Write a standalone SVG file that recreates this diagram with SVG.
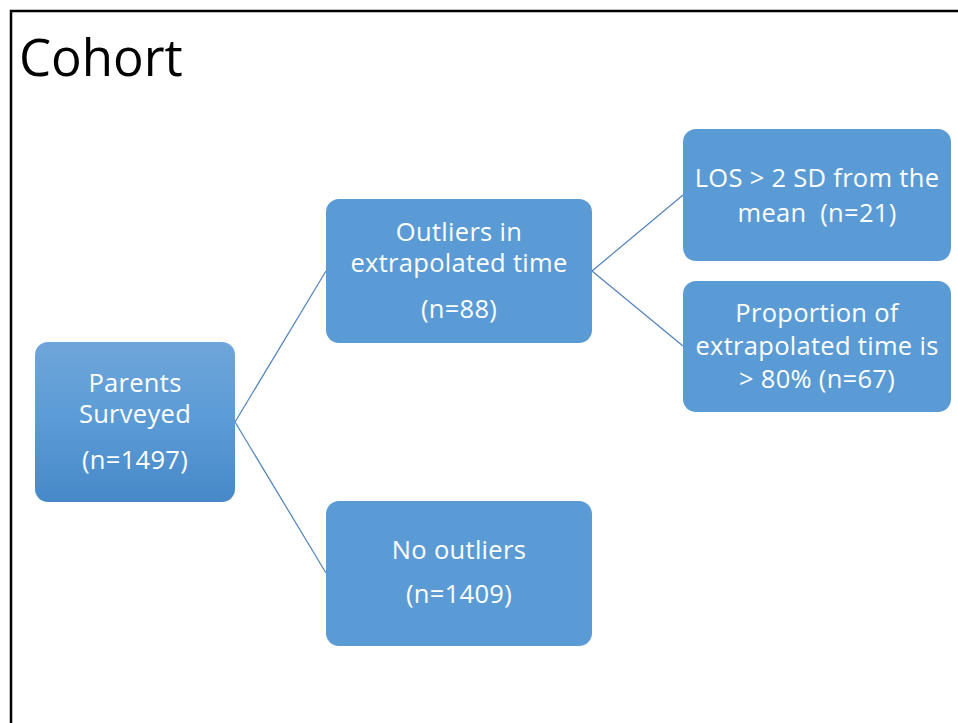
<svg xmlns="http://www.w3.org/2000/svg" width="958" height="723" viewBox="0 0 958 723">
<defs>
<linearGradient id="gP" x1="0" y1="0" x2="0" y2="1">
<stop offset="0" stop-color="#6fa5da"/>
<stop offset="0.5" stop-color="#5a9bd6"/>
<stop offset="1" stop-color="#4788c8"/>
</linearGradient>
</defs>
<style>
.box{fill:#5b9bd5;}
.t{font-family:"Open Sans","Noto Sans",sans-serif;font-size:25.5px;letter-spacing:0.3px;fill:#ffffff;text-anchor:middle;}
.c{stroke:#4f81bd;stroke-width:1.2;fill:none;}
</style>
<rect x="0" y="0" width="958" height="723" fill="#ffffff"/>
<path d="M11 723 V11 H958" fill="none" stroke="#000000" stroke-width="2.5"/>
<text x="19" y="76" font-family="'Open Sans','Noto Sans',sans-serif" font-size="51" fill="#000000">Cohort</text>
<g id="connectors">
<line class="c" x1="235" y1="422" x2="326" y2="271"/>
<line class="c" x1="235" y1="422" x2="326" y2="573"/>
<line class="c" x1="592" y1="271" x2="683" y2="195"/>
<line class="c" x1="592" y1="271" x2="683" y2="346"/>
</g>
<g id="parents">
<rect x="35" y="342" width="200" height="160" rx="13" fill="url(#gP)"/>
<text class="t" x="135" y="392">Parents</text>
<text class="t" x="135" y="423">Surveyed</text>
<text class="t" x="135" y="469">(n=1497)</text>
</g>
<g id="outliers">
<rect class="box" x="326" y="199" width="266" height="144" rx="13"/>
<text class="t" x="459" y="241">Outliers in</text>
<text class="t" x="459" y="272">extrapolated time</text>
<text class="t" x="459" y="318">(n=88)</text>
</g>
<g id="no-outliers">
<rect class="box" x="326" y="501" width="266" height="145" rx="13"/>
<text class="t" x="459" y="559">No outliers</text>
<text class="t" x="459" y="603">(n=1409)</text>
</g>
<g id="los">
<rect class="box" x="683" y="129" width="268" height="132" rx="13"/>
<text class="t" x="817" y="187">LOS &gt; 2 SD from the</text>
<text class="t" x="817" y="222" xml:space="preserve">mean  (n=21)</text>
</g>
<g id="proportion">
<rect class="box" x="683" y="281" width="268" height="131" rx="13"/>
<text class="t" x="817" y="322">Proportion of</text>
<text class="t" x="817" y="355">extrapolated time is</text>
<text class="t" x="817" y="388">&gt; 80% (n=67)</text>
</g>
</svg>
